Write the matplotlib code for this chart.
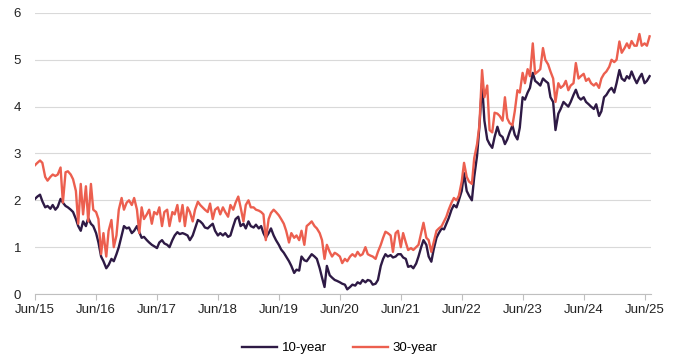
import numpy as np
import pandas as pd
import matplotlib
matplotlib.use('Agg')
import matplotlib.pyplot as plt
import matplotlib.dates as mdates

# UK gilt yields (%), read off the reference roughly twice a month
yield_10y = [
    2.03, 2.08, 2.12, 1.98, 1.85, 1.88, 1.82, 1.90, 1.80, 1.86, 2.03, 1.95,
    1.88, 1.85, 1.80, 1.75, 1.60, 1.45, 1.35, 1.55, 1.45, 1.62, 1.50, 1.45,
    1.30, 1.10, 0.80, 0.70, 0.55, 0.62, 0.75, 0.70, 0.85, 1.00, 1.25, 1.45,
    1.40, 1.42, 1.30, 1.35, 1.45, 1.32, 1.20, 1.22, 1.15, 1.10, 1.05, 1.02,
    0.98, 1.10, 1.15, 1.08, 1.05, 1.00, 1.15, 1.25, 1.32, 1.28, 1.30, 1.28,
    1.25, 1.15, 1.25, 1.40, 1.58, 1.55, 1.50, 1.42, 1.40, 1.45, 1.50, 1.35,
    1.25, 1.30, 1.25, 1.30, 1.22, 1.25, 1.45, 1.60, 1.65, 1.45, 1.50, 1.40,
    1.55, 1.45, 1.42, 1.48, 1.40, 1.45, 1.30, 1.20, 1.30, 1.40, 1.25, 1.15,
    1.05, 0.95, 0.88, 0.80, 0.70, 0.60, 0.45, 0.52, 0.50, 0.80, 0.72, 0.70,
    0.78, 0.85, 0.80, 0.75, 0.55, 0.35, 0.15, 0.60, 0.40, 0.35, 0.30, 0.28,
    0.25, 0.22, 0.20, 0.10, 0.15, 0.20, 0.18, 0.25, 0.22, 0.30, 0.25, 0.30,
    0.28, 0.20, 0.22, 0.30, 0.60, 0.75, 0.85, 0.80, 0.83, 0.78, 0.80, 0.85,
    0.85, 0.78, 0.75, 0.58, 0.60, 0.55, 0.65, 0.80, 1.00, 1.15, 1.05, 0.80,
    0.69, 0.95, 1.20, 1.30, 1.40, 1.38, 1.50, 1.62, 1.80, 1.90, 1.85, 2.00,
    2.20, 2.58, 2.20, 2.10, 2.00, 2.50, 2.95, 3.57, 4.50, 3.70, 3.30, 3.20,
    3.12, 3.35, 3.57, 3.40, 3.35, 3.20, 3.30, 3.45, 3.60, 3.40, 3.30, 3.55,
    4.20, 4.15, 4.30, 4.40, 4.72, 4.55, 4.50, 4.45, 4.60, 4.55, 4.50, 4.20,
    4.10, 3.50, 3.85, 3.95, 4.10, 4.05, 4.00, 4.10, 4.25, 4.36, 4.20, 4.15,
    4.20, 4.10, 4.05, 4.00, 3.95, 4.05, 3.80, 3.90, 4.20, 4.25, 4.35, 4.40,
    4.30, 4.50, 4.78, 4.60, 4.55, 4.65, 4.60, 4.75, 4.60, 4.50, 4.62, 4.70,
    4.50, 4.55, 4.65,
]

yield_30y = [
    2.75, 2.80, 2.85, 2.80, 2.50, 2.42, 2.50, 2.55, 2.52, 2.55, 2.70, 1.95,
    2.60, 2.62, 2.55, 2.45, 2.20, 1.50, 2.35, 1.70, 2.30, 1.55, 2.35, 1.80,
    1.75, 1.60, 0.85, 1.30, 0.80, 1.35, 1.58, 1.00, 1.25, 1.80, 2.05, 1.80,
    1.95, 2.00, 1.90, 2.05, 1.80, 1.30, 1.85, 1.60, 1.70, 1.80, 1.50, 1.75,
    1.70, 1.85, 1.45, 1.75, 1.80, 1.45, 1.75, 1.70, 1.90, 1.55, 1.90, 1.45,
    1.85, 1.75, 1.55, 1.80, 1.97, 1.90, 1.85, 1.80, 1.75, 1.93, 1.60, 1.80,
    1.85, 1.70, 1.85, 1.75, 1.65, 1.90, 1.80, 1.95, 2.08, 1.85, 1.55, 1.90,
    2.00, 1.85, 1.85, 1.80, 1.78, 1.75, 1.70, 1.15, 1.60, 1.73, 1.80, 1.75,
    1.68, 1.60, 1.50, 1.35, 1.10, 1.30, 1.20, 1.25, 1.15, 1.35, 1.05, 1.45,
    1.50, 1.55, 1.45, 1.40, 1.30, 1.15, 0.75, 1.05, 0.90, 0.80, 0.88, 0.85,
    0.80, 0.66, 0.75, 0.70, 0.80, 0.85, 0.80, 0.90, 0.82, 0.85, 1.00, 0.85,
    0.82, 0.80, 0.75, 0.90, 1.05, 1.20, 1.33, 1.30, 1.25, 0.90, 1.30, 1.35,
    1.00, 1.30, 1.10, 0.94, 0.98, 0.94, 1.00, 1.05, 1.30, 1.52, 1.20, 1.15,
    0.90, 1.10, 1.35, 1.40, 1.45, 1.55, 1.65, 1.80, 1.95, 2.05, 2.00, 2.10,
    2.40, 2.80, 2.50, 2.40, 2.35, 2.90, 3.20, 3.60, 4.78, 4.20, 4.45, 3.50,
    3.45, 3.87, 3.85, 3.80, 3.70, 4.20, 3.75, 3.65, 3.60, 3.90, 4.35, 4.30,
    4.72, 4.50, 4.80, 4.65, 5.35, 4.70, 4.75, 4.80, 5.25, 5.00, 4.90, 4.75,
    4.60, 4.10, 4.50, 4.40, 4.45, 4.55, 4.35, 4.45, 4.50, 4.93, 4.60, 4.65,
    4.70, 4.55, 4.60, 4.50, 4.45, 4.50, 4.40, 4.60, 4.70, 4.75, 4.85, 5.00,
    4.95, 5.00, 5.39, 5.15, 5.25, 5.35, 5.25, 5.40, 5.30, 5.30, 5.55, 5.30,
    5.35, 5.30, 5.50,
]

dates = pd.date_range('2015-06-01', periods=len(yield_10y), freq='SMS')

plt.rcParams['font.family'] = ['Liberation Sans', 'DejaVu Sans']

fig = plt.figure(figsize=(6.8, 3.59), dpi=100)
ax = fig.add_axes([0.0515, 0.181, 0.906, 0.783])

ax.plot(dates, yield_10y, color='#2e1a45', lw=1.7, label='10-year')
ax.plot(dates, yield_30y, color='#ec5f4f', lw=1.7, label='30-year')

ax.set_ylim(0, 6)
ax.set_yticks(range(0, 7))
ax.set_xlim(pd.Timestamp('2015-06-01'), pd.Timestamp('2025-07-10'))
ax.xaxis.set_major_locator(mdates.MonthLocator(bymonth=6, bymonthday=1))
ax.xaxis.set_major_formatter(mdates.DateFormatter('%b/%y'))

ax.grid(axis='y', color='#d9d9d9', lw=0.8)
ax.set_axisbelow(True)
for s in ['top', 'right', 'left']:
    ax.spines[s].set_visible(False)
ax.spines['bottom'].set_color('#bfbfbf')
ax.tick_params(axis='y', length=0, labelsize=9.5, pad=10, colors='#222222')
ax.tick_params(axis='x', length=4, color='#bfbfbf', labelsize=9.5, pad=3,
               labelcolor='#222222')

fig.legend(loc='center', bbox_to_anchor=(0.5, 0.03), ncol=2, frameon=False,
           fontsize=9.5, handlelength=2.6, columnspacing=2.0, handletextpad=0.4)

fig.savefig('out.png', dpi=100)
